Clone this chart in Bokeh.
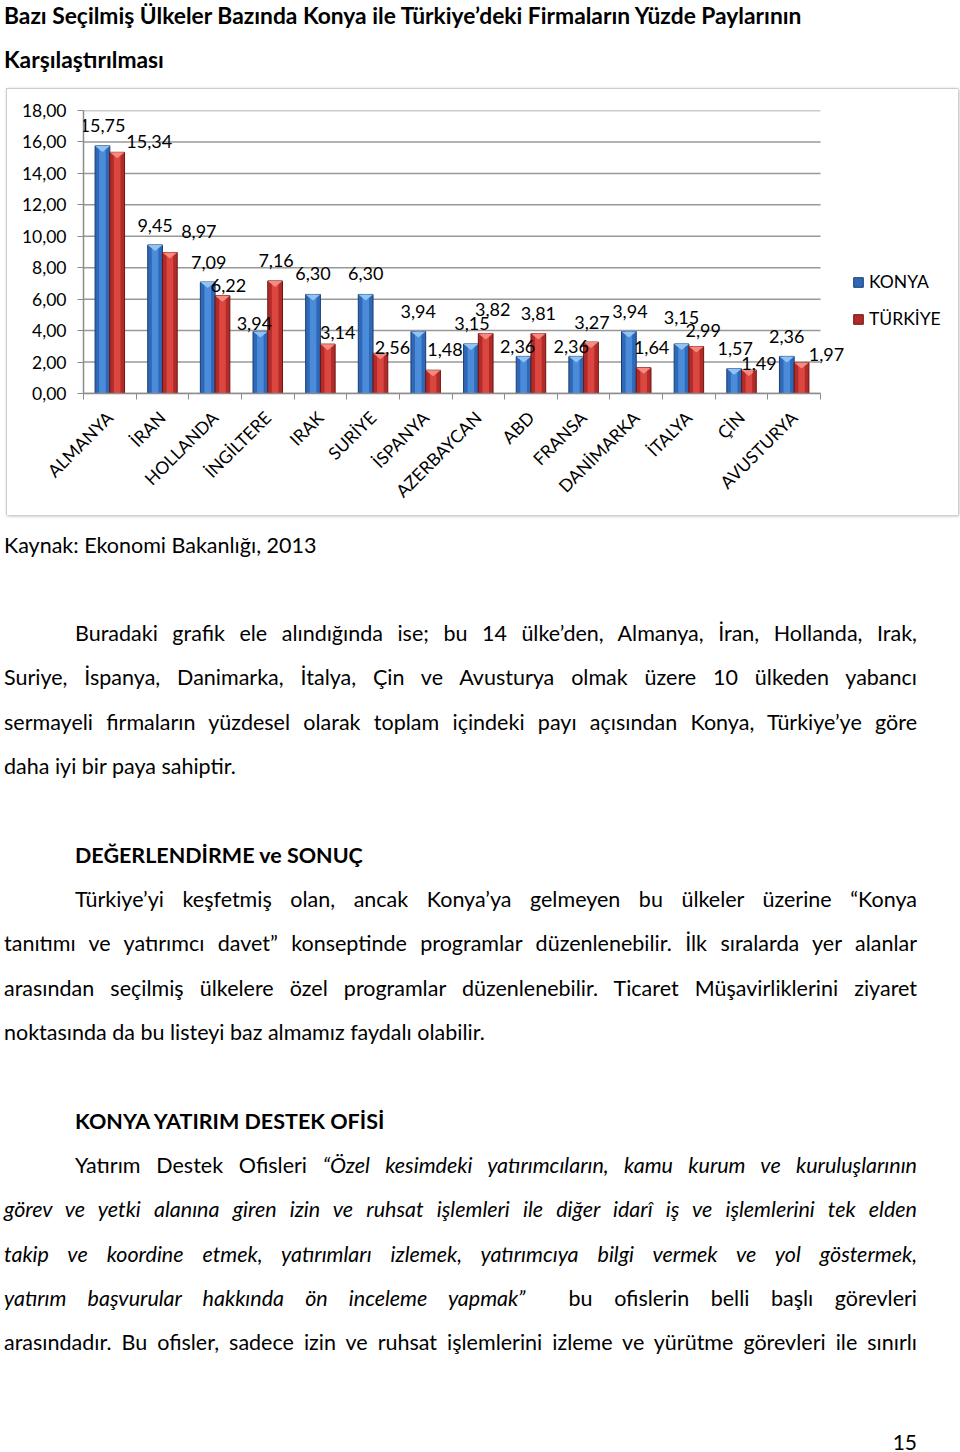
from math import pi
from bokeh.plotting import figure
from bokeh.core.properties import value
from bokeh.models import (ColumnDataSource, FixedTicker, CustomJSTickFormatter, Range1d,
                          Legend, LegendItem, LabelSet, Div)
from bokeh.layouts import column
from bokeh.embed import file_html
from bokeh.resources import INLINE

# ---------------- data ----------------
countries = ["ALMANYA", "İRAN", "HOLLANDA", "İNGİLTERE", "IRAK", "SURİYE", "İSPANYA",
             "AZERBAYCAN", "ABD", "FRANSA", "DANİMARKA", "İTALYA", "ÇİN", "AVUSTURYA"]
konya = [15.75, 9.45, 7.09, 3.94, 6.30, 6.30, 3.94, 3.15, 2.36, 2.36, 3.94, 3.15, 1.57, 2.36]
turkiye = [15.34, 8.97, 6.22, 7.16, 3.14, 2.56, 1.48, 3.82, 3.81, 3.27, 1.64, 2.99, 1.49, 1.97]
series_names = ["KONYA", "TÜRKİYE"]
y_tick_values = [0, 2, 4, 6, 8, 10, 12, 14, 16, 18]

# label nudges (screen pixels) imitating the spreadsheet's label placement
konya_label_dx = [0, 0, 1, -6, 0, 0, 0, 1, -6, -5, 1, 0, 1, 0]
konya_label_dy = [20, 19, 20, 8, 21, 21, 20, 20, 10, 10, 20, 26, 20, 20]
turkiye_label_dx = [32, 29, 6, 1, 10, 12, 12, 7, 0, 1, 8, 7, 10, 25]
turkiye_label_dy = [11, 21, 10, 20, 12, 6, 21, 24, 20, 20, 20, 16, 7, 8]

FONT = "Lato"
Y_MAX = 18
FRAME_H = 283          # pixel height of the plotting area
CAT_AREA_W = 737       # pixel width of the category axis
FRAME_W = 875          # pixel width of the plotting area (axis + legend space)
BAR_W = 0.28
CAP_PX = 6

n = len(countries)
centers = [i + 0.5 for i in range(n)]
boundaries = list(range(n + 1))
cap_h = CAP_PX * Y_MAX / FRAME_H
x_end = FRAME_W * n / CAT_AREA_W


def fmt(v):
    return f"{v:.2f}".replace(".", ",")


p = figure(width=952, height=427, x_range=Range1d(0, x_end), y_range=Range1d(0, Y_MAX),
           toolbar_location=None, output_backend="svg",
           min_border_left=77, min_border_right=0, min_border_top=22, min_border_bottom=122,
           margin=(8, 2, 5, 6))
p.outline_line_color = None
p.background_fill_color = "white"
p.border_fill_color = "white"
p.styles = {"outline": "1.5px solid #bdbdbd", "outline-offset": "-1.5px",
            "box-shadow": "1px 1px 3px rgba(0,0,0,0.3)"}

# horizontal gridlines spanning only the category area
p.xgrid.visible = False
p.ygrid.visible = False
p.segment(x0=[0] * len(y_tick_values), x1=[n] * len(y_tick_values),
          y0=y_tick_values, y1=y_tick_values, line_color="#989898", line_width=1.5,
          level="underlay")

styles = {
    "KONYA": dict(main="#2f68b6", line="#1a3d70", hi="#4b8cda", cap="#8fc3f3", sign=-1,
                  values=konya, dx=konya_label_dx, dy=konya_label_dy),
    "TÜRKİYE": dict(main="#b22b28", line="#6c1514", hi="#dc4640", cap="#f48a80", sign=1,
                    values=turkiye, dx=turkiye_label_dx, dy=turkiye_label_dy),
}

legend_items = []
for name in series_names:
    st = styles[name]
    vals = st["values"]
    xs = [c + st["sign"] * BAR_W / 2 for c in centers]
    src = ColumnDataSource(dict(x=xs, top=vals, label=[fmt(v) for v in vals],
                                dx=st["dx"], dy=st["dy"]))
    main = p.vbar(x="x", top="top", bottom=0, width=BAR_W, source=src,
                  fill_color=st["main"], line_color=st["line"], line_width=1)
    p.vbar(x="x", top="top", bottom=0, width=BAR_W * 0.45, source=src,
           fill_color=st["hi"], line_color=None)
    cap_xs = [[x - BAR_W / 2, x + BAR_W / 2, x] for x in xs]
    cap_ys = [[v, v, v - cap_h] for v in vals]
    p.patches(cap_xs, cap_ys, fill_color=st["cap"], line_color=None)
    labels = LabelSet(x="x", y="top", text="label", source=src, x_offset="dx", y_offset="dy",
                      text_align="center", text_baseline="middle",
                      text_font=value(FONT), text_font_size="18px", text_color="#000000")
    p.add_layout(labels)
    legend_items.append(LegendItem(label=name, renderers=[main]))

# axes
p.yaxis.ticker = FixedTicker(ticks=y_tick_values)
p.yaxis.formatter = CustomJSTickFormatter(code="return tick.toFixed(2).replace('.', ',');")
p.yaxis.axis_line_color = "#8c8c8c"
p.yaxis.axis_line_width = 1.5
p.yaxis.major_tick_out = 6
p.yaxis.major_tick_in = 0
p.yaxis.major_tick_line_color = "#8c8c8c"
p.yaxis.minor_tick_line_color = None
p.yaxis.major_label_text_font = FONT
p.yaxis.major_label_text_font_size = "17.5px"
p.yaxis.major_label_text_color = "#000000"
p.yaxis.major_label_standoff = 11

p.xaxis.bounds = (0, n)
p.xaxis.ticker = FixedTicker(ticks=centers, minor_ticks=boundaries)
p.xaxis.major_label_overrides = {c: name for c, name in zip(centers, countries)}
p.xaxis.major_tick_in = 0
p.xaxis.major_tick_out = 0
p.xaxis.minor_tick_in = 0
p.xaxis.minor_tick_out = 6
p.xaxis.minor_tick_line_color = "#8c8c8c"
p.xaxis.axis_line_color = "#8c8c8c"
p.xaxis.axis_line_width = 1.5
p.xaxis.major_label_orientation = pi / 4
p.xaxis.major_label_text_font = FONT
p.xaxis.major_label_text_font_size = "17.5px"
p.xaxis.major_label_text_color = "#000000"
p.xaxis.major_label_standoff = 15

legend = Legend(items=legend_items, location=(769, 64), orientation="vertical",
                label_text_font=FONT, label_text_font_size="17.5px", label_text_color="#000000",
                glyph_width=12, glyph_height=12, label_height=20, spacing=16,
                padding=0, margin=0, label_standoff=5,
                border_line_color=None, background_fill_alpha=0)
p.add_layout(legend)

# ---------------- page text ----------------
BASE = f"font-family:{FONT},'Carlito',Calibri,sans-serif;color:#000;"


def line(text, top, left=4, right=917, size=21.5, bold=False, justify=True, lh=44, align=None):
    st = (f"position:absolute;left:{left}px;width:{right-left}px;top:{top}px;height:{lh}px;"
          f"line-height:{lh}px;font-size:{size}px;white-space:nowrap;")
    if bold:
        st += "font-weight:bold;"
    if justify:
        st += "text-align:justify;text-align-last:justify;"
    elif align:
        st += f"text-align:{align};"
    return f'<div style="{st}">{text}</div>'


top_html = (f'<div style="position:relative;width:960px;height:80px;{BASE}">'
            + line("Bazı Seçilmiş Ülkeler Bazında Konya ile Türkiye’deki Firmaların Yüzde Paylarının",
                   0, size=22.8, bold=True, justify=False, lh=30)
            + line("Karşılaştırılması", 44, size=22.8, bold=True, justify=False, lh=30)
            + '</div>')
top_div = Div(text=top_html, width=960, height=80, margin=(0, 0, 0, 0))

body_lines = [
    line("Kaynak: Ekonomi Bakanlığı, 2013", 3, justify=False),
    line("Buradaki grafik ele alındığında ise; bu 14 ülke’den, Almanya, İran, Hollanda, Irak,", 91, left=75),
    line("Suriye, İspanya, Danimarka, İtalya, Çin ve Avusturya olmak üzere 10 ülkeden yabancı", 135),
    line("sermayeli firmaların yüzdesel olarak toplam içindeki payı açısından Konya, Türkiye’ye göre", 180),
    line("daha iyi bir paya sahiptir.", 224, justify=False),
    line("DEĞERLENDİRME ve SONUÇ", 313, left=75, bold=True, justify=False),
    line("Türkiye’yi keşfetmiş olan, ancak Konya’ya gelmeyen bu ülkeler üzerine “Konya", 357, left=75),
    line("tanıtımı ve yatırımcı davet” konseptinde programlar düzenlenebilir. İlk sıralarda yer alanlar", 401),
    line("arasından seçilmiş ülkelere özel programlar düzenlenebilir. Ticaret Müşavirliklerini ziyaret", 446),
    line("noktasında da bu listeyi baz almamız faydalı olabilir.", 490, justify=False),
    line("KONYA YATIRIM DESTEK OFİSİ", 579, left=75, bold=True, justify=False),
    line("Yatırım Destek Ofisleri <i>“Özel kesimdeki yatırımcıların, kamu kurum ve kuruluşlarının</i>", 623, left=75),
    line("<i>görev ve yetki alanına giren izin ve ruhsat işlemleri ile diğer idarî iş ve işlemlerini tek elden</i>", 667),
    line("<i>takip ve koordine etmek, yatırımları izlemek, yatırımcıya bilgi vermek ve yol göstermek,</i>", 712),
    line("<i>yatırım başvurular hakkında ön inceleme yapmak”</i> &nbsp;bu ofislerin belli başlı görevleri", 756),
    line("arasındadır. Bu ofisler, sadece izin ve ruhsat işlemlerini izleme ve yürütme görevleri ile sınırlı", 800),
    line("15", 900, left=860, right=917, justify=False, size=21, align="right"),
]
body_html = f'<div style="position:relative;width:960px;height:932px;{BASE}">' + "".join(body_lines) + '</div>'
body_div = Div(text=body_html, width=960, height=932, margin=(0, 0, 0, 0))

page = column(top_div, p, body_div, spacing=0)
open("out.html", "w").write(file_html(page, INLINE))
